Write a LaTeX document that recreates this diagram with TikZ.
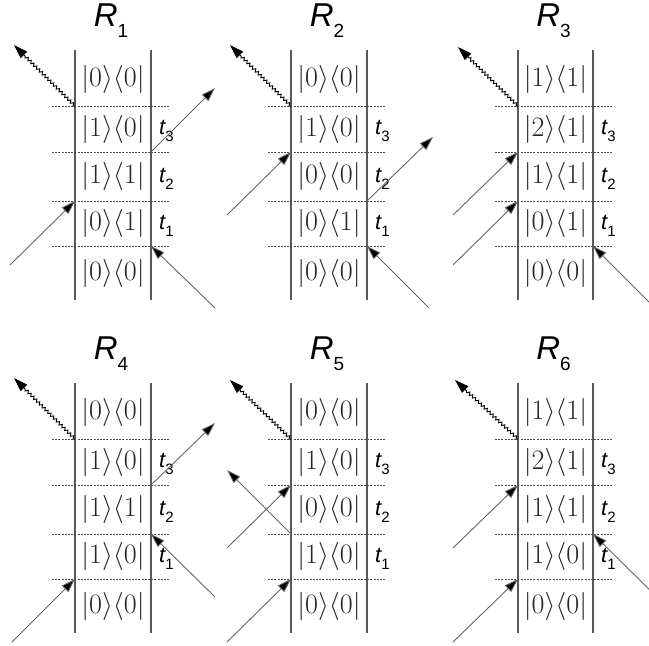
\documentclass[tikz,border=0pt]{standalone}
\usepackage{fontspec}
\newfontfamily\lsans{Liberation Sans}
\usetikzlibrary{arrows.meta,decorations.pathmorphing,calc}
\newcommand\dm[2]{$\big|#1\big\rangle\big\langle#2\big|$}
\newcommand\ttlR[1]{{\lsans\itshape R}\raisebox{-0.33em}{\lsans\fontsize{19}{20}\selectfont #1}}
\newcommand\tlab[1]{{\lsans\itshape t}\raisebox{-0.3em}{\lsans\fontsize{15}{17}\selectfont #1}}
\tikzset{
 wall/.style={draw=black!65, line width=1.1pt},
 sep/.style={draw=black!70, line width=0.8pt, dash pattern=on 2pt off 1.2pt},
 ket/.style={font=\fontsize{24.88}{30}\selectfont, inner sep=0pt, text=black!85, scale=1.13},
 ttl/.style={font=\fontsize{33}{36}\selectfont, inner sep=0pt},
 tl/.style={font=\fontsize{22}{24}\selectfont, anchor=west, inner sep=0pt},
 photon/.style={draw=black!60, line width=0.9pt, -{Triangle[length=14pt,width=9pt,fill=black]}},
 emit/.style={draw=black, line width=0.9pt, -{Triangle[length=14pt,width=9pt,fill=black]},
   decorate, decoration={snake, amplitude=1.4pt, segment length=4pt, post length=14pt}},
}
\begin{document}
\begin{tikzpicture}[x=1pt,y=-1pt]
\clip (0,0) rectangle (649,646);
\foreach \n/\L/\R/\dy/\ka/\kb/\kc/\kd/\ke in {
  1/75/151/0/00/10/11/01/00,
  2/291/367/0/00/10/00/01/00,
  3/518/593/0/11/21/11/01/00,
  4/75/151/333/00/10/11/10/00,
  5/291/367/333/00/10/00/10/00,
  6/518/593/333/11/21/11/10/00}{
  \coordinate (p\n-T) at (\L,{\dy+50});
  \coordinate (p\n-B) at (\L,{\dy+300});
  \coordinate (p\n-TR) at (\R,{\dy+50});
  \coordinate (p\n-BR) at (\R,{\dy+300});
  \draw[wall] (p\n-T) -- (p\n-B);
  \draw[wall] (p\n-TR) -- (p\n-BR);
  \foreach \i/\y in {1/106,2/152,3/201,4/246}{
    \coordinate (p\n-L\i) at (\L,{\dy+\y});
    \coordinate (p\n-R\i) at (\R,{\dy+\y});
    \coordinate (p\n-a\i) at ({\L-23},{\dy+\y});
    \coordinate (p\n-b\i) at ({\R+19},{\dy+\y});
    \draw[sep] (p\n-a\i) -- (p\n-b\i);
  }
  \node[ttl] (p\n-title) at ({(\L+\R)/2-2},{\dy+21}) {\ttlR{\n}};
  \node[ket] (p\n-k1) at ({(\L+\R)/2},{\dy+79}) {\expandafter\dm\ka};
  \node[ket] (p\n-k2) at ({(\L+\R)/2},{\dy+129}) {\expandafter\dm\kb};
  \node[ket] (p\n-k3) at ({(\L+\R)/2},{\dy+176.5}) {\expandafter\dm\kc};
  \node[ket] (p\n-k4) at ({(\L+\R)/2},{\dy+223.5}) {\expandafter\dm\kd};
  \node[ket] (p\n-k5) at ({(\L+\R)/2},{\dy+273}) {\expandafter\dm\ke};
  \node[tl] (p\n-t3) at ({\R+8},{\dy+131}) {\tlab{3}};
  \node[tl] (p\n-t2) at ({\R+8},{\dy+179}) {\tlab{2}};
  \node[tl] (p\n-t1) at ({\R+8},{\dy+226}) {\tlab{1}};
}
% R1
\coordinate (e1) at ($(p1-L1)+(-61,-61)$);
\coordinate (o1) at ($(p1-R2)+(64,-64)$);
\coordinate (i1a) at ($(p1-L3)+(-65,64)$);
\coordinate (i1b) at ($(p1-R4)+(64,62)$);
\draw[emit] (p1-L1) -- (e1);
\draw[photon] (p1-R2) -- (o1);
\draw[photon] (i1a) -- (p1-L3);
\draw[photon] (i1b) -- (p1-R4);
% R2
\coordinate (e2) at ($(p2-L1)+(-61,-61)$);
\coordinate (i2a) at ($(p2-L2)+(-64,63)$);
\coordinate (o2) at ($(p2-R3)+(66,-64)$);
\coordinate (i2b) at ($(p2-R4)+(62,62)$);
\draw[emit] (p2-L1) -- (e2);
\draw[photon] (i2a) -- (p2-L2);
\draw[photon] (p2-R3) -- (o2);
\draw[photon] (i2b) -- (p2-R4);
% R3
\coordinate (e3) at ($(p3-L1)+(-60,-59)$);
\coordinate (i3a) at ($(p3-L2)+(-65,63)$);
\coordinate (i3b) at ($(p3-L3)+(-65,64)$);
\coordinate (i3c) at ($(p3-R4)+(64,64)$);
\draw[emit] (p3-L1) -- (e3);
\draw[photon] (i3a) -- (p3-L2);
\draw[photon] (i3b) -- (p3-L3);
\draw[photon] (i3c) -- (p3-R4);
% R4
\coordinate (e4) at ($(p4-L1)+(-61,-61)$);
\coordinate (o4) at ($(p4-R2)+(64,-62)$);
\coordinate (i4a) at ($(p4-R3)+(64,63)$);
\coordinate (i4b) at ($(p4-L4)+(-63,63)$);
\draw[emit] (p4-L1) -- (e4);
\draw[photon] (p4-R2) -- (o4);
\draw[photon] (i4a) -- (p4-R3);
\draw[photon] (i4b) -- (p4-L4);
% R5
\coordinate (e5) at ($(p5-L1)+(-61,-59)$);
\coordinate (i5a) at ($(p5-L2)+(-64,63)$);
\coordinate (o5) at ($(p5-L3)+(-64,-64)$);
\coordinate (i5b) at ($(p5-L4)+(-64,63)$);
\draw[emit] (p5-L1) -- (e5);
\draw[photon] (i5a) -- (p5-L2);
\draw[photon] (p5-L3) -- (o5);
\draw[photon] (i5b) -- (p5-L4);
% R6
\coordinate (e6) at ($(p6-L1)+(-63,-59)$);
\coordinate (i6a) at ($(p6-L2)+(-65,63)$);
\coordinate (i6b) at ($(p6-R3)+(64,63)$);
\coordinate (i6c) at ($(p6-L4)+(-65,63)$);
\draw[emit] (p6-L1) -- (e6);
\draw[photon] (i6a) -- (p6-L2);
\draw[photon] (i6b) -- (p6-R3);
\draw[photon] (i6c) -- (p6-L4);
\end{tikzpicture}
\end{document}
